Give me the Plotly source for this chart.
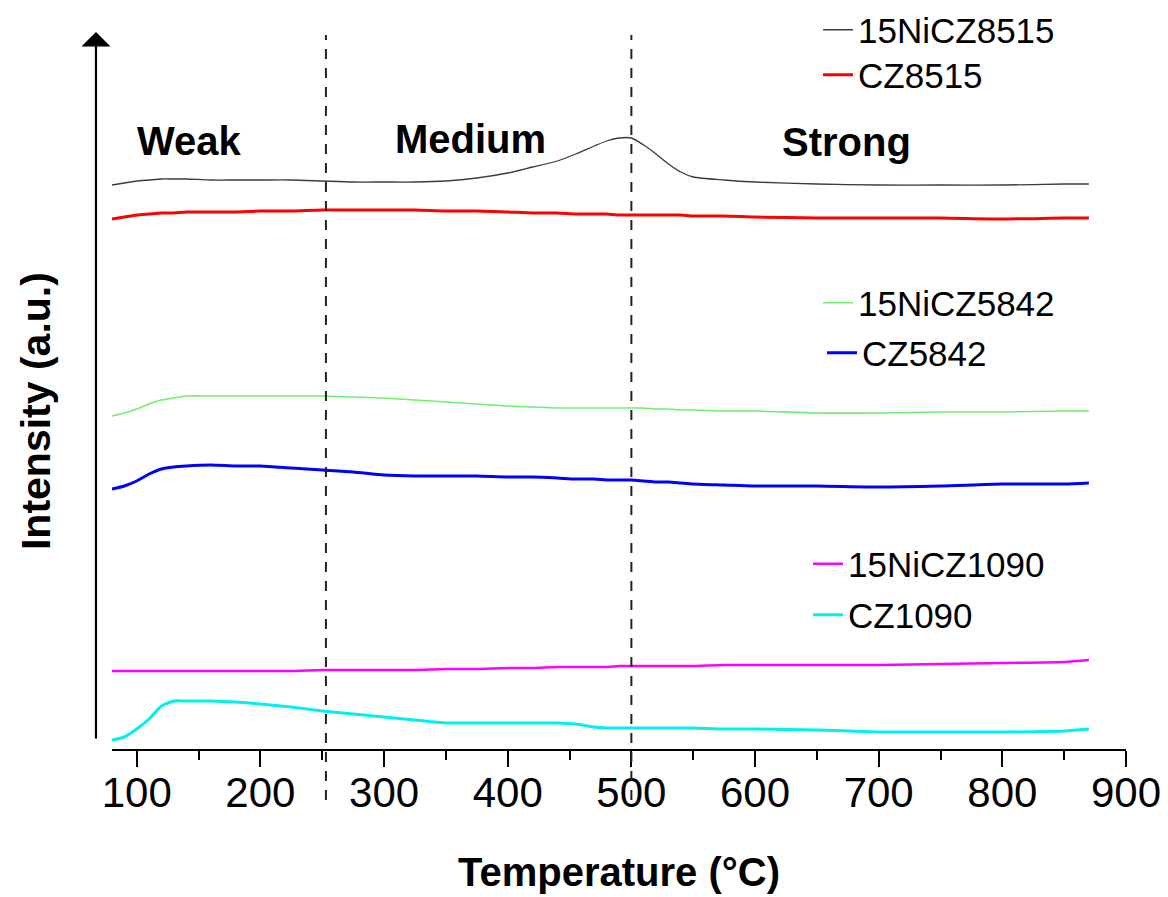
import plotly.graph_objects as go

# Temperature grid (°C)
temperature = [80, 90, 100, 110, 120, 130, 140, 160, 180, 200, 225, 250, 275, 300, 325, 350, 375,
               400, 420, 440, 455, 470, 480, 490, 500, 510, 520, 530, 540, 550, 575, 600, 650, 700,
               750, 800, 850, 870]

# Intensities (a.u., stacked as in the original figure)
ni_cz8515 = [564, 566, 568, 569, 570, 570, 570, 569, 569, 569, 569, 568, 567, 567, 567, 568, 571,
             576, 582, 588, 595, 603, 608, 611, 611, 604, 595, 585, 577, 572, 569, 567, 565, 564,
             564, 564, 565, 565]
cz8515 = [530, 532, 534, 535, 536, 536, 537, 537, 537, 538, 538, 539, 539, 539, 539, 538, 538,
          537, 536, 536, 535, 535, 535, 534, 534, 534, 534, 534, 534, 533, 533, 532, 531, 531,
          531, 530, 531, 531]
ni_cz5842 = [333, 336, 340, 345, 349, 351, 353, 353, 353, 353, 353, 353, 352, 351, 349, 347, 345,
             343, 342, 341, 341, 341, 341, 341, 341, 341, 340, 340, 339, 339, 338, 338, 336, 336,
             337, 337, 338, 338]
cz5842 = [260, 263, 268, 275, 280, 282, 283, 284, 283, 283, 281, 279, 277, 274, 273, 273, 273,
          272, 272, 271, 270, 270, 269, 269, 269, 268, 267, 267, 266, 265, 264, 263, 263, 262,
          263, 265, 265, 266]
ni_cz1090 = [78, 78, 78, 78, 78, 78, 78, 78, 78, 78, 78, 79, 79, 79, 79, 80, 80,
             81, 81, 82, 82, 82, 82, 83, 83, 83, 83, 83, 83, 83, 84, 84, 84, 84,
             85, 86, 87, 89]
cz1090 = [9, 12, 20, 30, 43, 48, 48, 48, 47, 45, 42, 38, 35, 32, 29, 26, 26,
          26, 26, 26, 25, 22, 21, 21, 21, 21, 21, 21, 21, 21, 20, 20, 19, 17,
          17, 17, 18, 20]

region_names = ["Weak", "Medium", "Strong"]
region_x = [143, 370, 674]
region_y = [608, 610, 607]
boundaries = [253, 500]

x_ticks = [100, 200, 300, 400, 500, 600, 700, 800, 900]

FONT = "Liberation Sans, Arial, sans-serif"

series = [
    ("15NiCZ8515", ni_cz8515, "#3c3c3c", 1.3),
    ("CZ8515", cz8515, "#ff0000", 3),
    ("15NiCZ5842", ni_cz5842, "#6ef06e", 1.6),
    ("CZ5842", cz5842, "#0000ff", 3),
    ("15NiCZ1090", ni_cz1090, "#ff00ff", 2.5),
    ("CZ1090", cz1090, "#00f0f0", 3),
]
# one legend box per entry, placed like the original key
legend_pos = [(0.6963, 1.0), (0.6963, 0.9374), (0.6963, 0.6203),
              (0.7002, 0.5508), (0.6864, 0.2573), (0.6864, 0.1864)]

fig = go.Figure()
leg_font = dict(family=FONT, size=35, color="black")
legend_layout = {}
for i, (name, vals, color, w) in enumerate(series):
    key = "legend" if i == 0 else f"legend{i + 1}"
    fig.add_trace(go.Scatter(
        x=temperature, y=vals, mode="lines", name=name, showlegend=True,
        line=dict(color=color, width=w, shape="spline", smoothing=0.6),
        legend=key,
    ))
    lx, ly = legend_pos[i]
    legend_layout[key] = dict(x=lx, y=ly, xanchor="left", yanchor="middle", font=leg_font,
                              bgcolor="rgba(0,0,0,0)", borderwidth=0)

for b in boundaries:
    fig.add_shape(type="line", xref="x", yref="paper", x0=b, x1=b, y0=-0.071, y1=0.993,
                  line=dict(color="#222222", width=2, dash="10px,9px"), layer="above")

for t, xx, yy in zip(region_names, region_x, region_y):
    fig.add_annotation(x=xx, y=yy, xref="x", yref="y", text=t, showarrow=False,
                       font=dict(family=FONT, size=40, color="black", weight="bold"))

# y-axis arrow
fig.add_annotation(x=-0.0158, y=0.9972, xref="paper", yref="paper", ax=0, ay=708,
                   axref="pixel", ayref="pixel",
                   text="", showarrow=True, arrowhead=1, arrowsize=2.2, arrowwidth=2.2,
                   arrowcolor="black")
# y-axis title
fig.add_annotation(x=-0.0750, y=0.470, xref="paper", yref="paper", text="Intensity (a.u.)",
                   textangle=-90, showarrow=False, xanchor="center", yanchor="middle",
                   font=dict(family=FONT, size=41, color="black", weight="bold"))

fig.update_layout(
    width=1168, height=897,
    margin=dict(l=104, r=50, t=22, b=156, autoexpand=False),
    paper_bgcolor="white", plot_bgcolor="white",
    showlegend=True,
    font=dict(family=FONT, color="black"),
    xaxis=dict(
        range=[80, 900], tickvals=x_ticks, showline=True, linewidth=2, linecolor="black",
        ticks="outside", ticklen=16, tickwidth=2, tickcolor="black",
        ticklabelstandoff=-10,
        tickfont=dict(family=FONT, size=42, color="black"),
        showgrid=False, zeroline=False,
        minor=dict(dtick=50, tick0=50, ticks="outside", ticklen=9, tickwidth=2, tickcolor="black",
                   showgrid=False),
        title=dict(text="Temperature (°C)", standoff=43,
                   font=dict(family=FONT, size=40, color="black", weight="bold")),
        automargin=False,
    ),
    yaxis=dict(range=[0, 719], visible=False, showgrid=False, zeroline=False),
    **legend_layout,
)

fig.write_html("out.html")
